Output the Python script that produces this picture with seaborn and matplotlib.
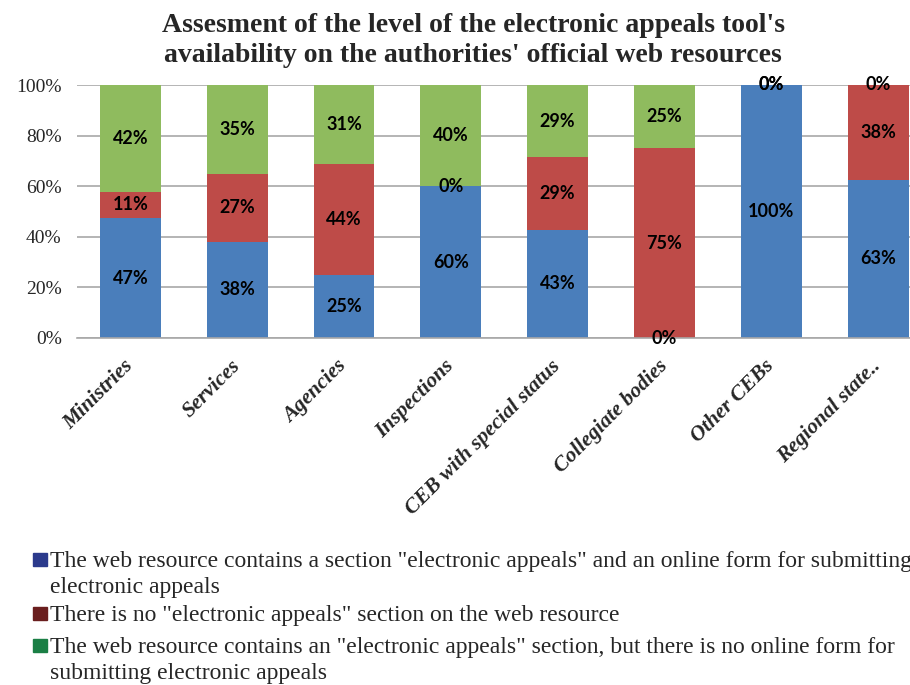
import pandas as pd
import matplotlib.pyplot as plt
import matplotlib.patches as mpatches
import seaborn as sns

# Datos (porcentaje de cada tipo de organo)
categories = ['Ministries', 'Services', 'Agencies', 'Inspections',
              'CEB with special status', 'Collegiate bodies', 'Other CEBs',
              'Regional state..']
with_form = [47.4, 38, 25, 60, 42.8, 0, 100, 62.5]
no_section = [10.5, 27, 43.75, 0, 28.6, 75, 0, 37.5]
no_form = [42.1, 35, 31.25, 40, 28.6, 25, 0, 0]

yticks = [0, 20, 40, 60, 80, 100]
title = ("Assesment of the level of the electronic appeals tool's\n"
         "availability on the authorities' official web resources")
legend_labels = [
    'The web resource contains a section "electronic appeals" and an online form for submitting\nelectronic appeals',
    'There is no "electronic appeals" section on the web resource',
    'The web resource contains an "electronic appeals" section, but there is no online form for\nsubmitting electronic appeals',
]

bar_colors = ['#4A7EBB', '#BE4B48', '#8FBB5E']
legend_colors = ['#2B3A8C', '#6A1E1E', '#1A7F45']

sns.set_style('white')
plt.rcParams['font.family'] = ['Liberation Serif', 'DejaVu Serif']

df = pd.DataFrame({'category': categories, 'with_form': with_form,
                   'no_section': no_section, 'no_form': no_form})
df['top1'] = df['with_form']
df['top2'] = df['top1'] + df['no_section']
df['top3'] = df['top2'] + df['no_form']

fig = plt.figure(figsize=(9.1, 6.85), dpi=100)
ax = fig.add_axes([77 / 910, 1 - 338 / 685, 854.5 / 910, 253 / 685])

# barras apiladas: se dibuja primero el total y luego las capas inferiores
for col, color in zip(['top3', 'top2', 'top1'], bar_colors[::-1]):
    sns.barplot(data=df, x='category', y=col, color=color, width=0.57,
                saturation=1, linewidth=0, errorbar=None, ax=ax)

# etiquetas de porcentaje en el centro de cada segmento
for i, row in df.iterrows():
    parts = [row['with_form'], row['no_section'], row['no_form']]
    bottoms = [0, row['top1'], row['top2']]
    for val, b in zip(parts, bottoms):
        ax.text(i, b + val / 2, f'{int(val + 0.5)}%', ha='center', va='center',
                fontfamily='Lato', fontweight='bold', fontsize=13, color='black')

ax.set_xlim(-0.5, len(categories) - 0.5)
ax.set_ylim(0, 100)
ax.set_yticks(yticks)
ax.set_yticklabels([f'{v}%' for v in yticks], fontsize=14)
ax.set_xticks(range(len(categories)))
ax.set_xticklabels(categories, rotation=45, ha='right', va='center',
                   rotation_mode='anchor', fontsize=15.5, fontweight='bold',
                   fontstyle='italic')
ax.tick_params(axis='both', length=0)
ax.tick_params(axis='y', pad=11)
ax.tick_params(axis='x', pad=18)
ax.set_xlabel('')
ax.set_ylabel('')
ax.yaxis.grid(True, color='#A8A8A8', linewidth=1.2)
ax.set_axisbelow(True)
for s in ['left', 'right', 'top']:
    ax.spines[s].set_visible(False)
ax.spines['bottom'].set_color('#A8A8A8')
ax.spines['bottom'].set_linewidth(1.2)

fig.text(0.52, 1 - 13 / 685, title, ha='center', va='top', fontsize=20,
         fontweight='bold', linespacing=1.28)

# leyenda manual (cuadro a la altura de la primera linea)
baselines = [567, 621, 653]
for lab, col, yb in zip(legend_labels, legend_colors, baselines):
    for k, line in enumerate(lab.split('\n')):
        fig.text(50 / 910, 1 - (yb + 26.5 * k) / 685, line, ha='left',
                 va='baseline', fontsize=17)
    fig.patches.append(mpatches.Rectangle((33 / 910, 1 - (yb - 1) / 685),
                                          14 / 910, 13 / 685, color=col,
                                          transform=fig.transFigure, figure=fig))

plt.savefig('out.png', dpi=100)
plt.close()
